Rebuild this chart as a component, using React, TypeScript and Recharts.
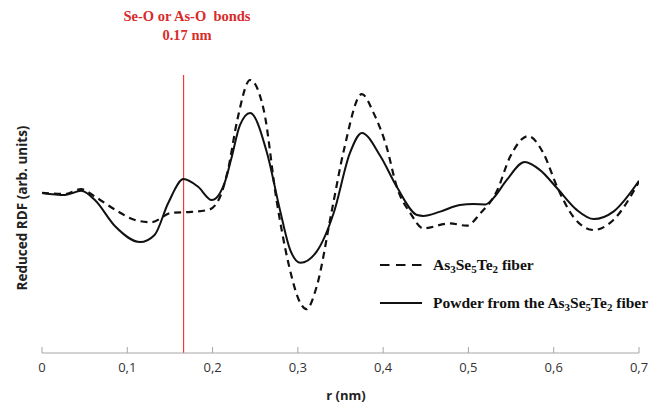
import React from "react";
import { LineChart, Line, XAxis, YAxis, ReferenceLine } from "recharts";

// r (nm) and reduced RDF (arb. units) for the fiber curve
const fiberR = [
  0, 0.027, 0.046, 0.062, 0.086, 0.109, 0.128, 0.152, 0.175, 0.195, 0.207,
  0.218, 0.229, 0.244, 0.26, 0.275, 0.289, 0.303, 0.31, 0.322, 0.34, 0.354,
  0.375, 0.389, 0.404, 0.416, 0.432, 0.447, 0.478, 0.498, 0.514, 0.533, 0.549,
  0.57, 0.588, 0.604, 0.623, 0.647, 0.67, 0.7,
];
const fiberRdf = [
  55.6, 55.2, 56.9, 54.3, 49.7, 46.2, 45.4, 48.7, 49.0, 49.7, 53.1, 63.5,
  80.9, 94.8, 84.4, 53.1, 31.1, 17.3, 15.2, 23.0, 49.7, 70.5, 89.9, 83.2,
  71.6, 57.7, 48.5, 43.3, 45.0, 44.2, 48.5, 56.0, 68.2, 75.3, 69.3, 57.7,
  47.3, 42.7, 46.2, 59.5,
];

// powder ground from the same fiber
const powderR = [
  0, 0.027, 0.046, 0.062, 0.086, 0.115, 0.132, 0.148, 0.166, 0.183, 0.199,
  0.214, 0.222, 0.232, 0.244, 0.264, 0.279, 0.291, 0.303, 0.322, 0.342, 0.361,
  0.375, 0.397, 0.416, 0.44, 0.447, 0.467, 0.49, 0.506, 0.52, 0.529, 0.545,
  0.566, 0.584, 0.604, 0.627, 0.647, 0.67, 0.7,
];
const powderRdf = [
  55.6, 54.9, 56.3, 53.1, 43.9, 38.5, 41.0, 52.1, 60.4, 57.7, 53.1, 59.0,
  67.5, 79.0, 83.3, 69.3, 49.7, 35.8, 31.3, 35.2, 48.6, 69.4, 76.4, 68.2,
  57.7, 47.9, 47.6, 49.1, 51.4, 51.7, 51.6, 53.7, 60.1, 66.3, 63.5, 57.2,
  49.7, 46.5, 49.1, 59.8,
];

const rTicks = [0, 0.1, 0.2, 0.3, 0.4, 0.5, 0.6, 0.7];
const bondR = 0.166;

const fiberData = fiberR.map((r, i) => ({ r, rdf: fiberRdf[i] }));
const powderData = powderR.map((r, i) => ({ r, rdf: powderRdf[i] }));

const sans = "'Open Sans', sans-serif";
const serif = "'Liberation Serif', 'Times New Roman', serif";
const axisGrey = "#a6a6a6";

const formatR = (v: number) => (v === 0 ? "0" : v.toFixed(1).replace(".", ","));

// tick marks point up into the plot, labels sit below the axis
function RTick(props: any) {
  const { x, y, payload } = props;
  return (
    <g>
      <line x1={x} x2={x} y1={y} y2={y - 6} stroke={axisGrey} strokeWidth={1} />
      <text
        x={x}
        y={y + 19}
        textAnchor="middle"
        fontFamily={sans}
        fontSize={13}
        fill="#333"
      >
        {formatR(payload.value)}
      </text>
    </g>
  );
}

function Compound() {
  const sub: React.CSSProperties = { fontSize: 11, verticalAlign: "-3px", lineHeight: 0 };
  return (
    <>
      As<span style={sub}>3</span>Se<span style={sub}>5</span>Te<span style={sub}>2</span>
    </>
  );
}

function RdfLegend() {
  const row: React.CSSProperties = {
    display: "flex",
    alignItems: "center",
    height: 38,
    fontFamily: serif,
    fontWeight: 700,
    fontSize: 15.5,
    color: "#111",
    whiteSpace: "nowrap",
  };
  return (
    <div style={{ position: "absolute", left: 378, top: 246 }}>
      <div style={row}>
        <svg width={55} height={10}>
          <line x1={2} x2={44} y1={5} y2={5} stroke="#111" strokeWidth={2} strokeDasharray="9.5 6.5" />
        </svg>
        <span>
          <Compound /> fiber
        </span>
      </div>
      <div style={row}>
        <svg width={55} height={10}>
          <line x1={2} x2={44} y1={5} y2={5} stroke="#111" strokeWidth={2} />
        </svg>
        <span>
          Powder from the <Compound /> fiber
        </span>
      </div>
    </div>
  );
}

export default function App() {
  return (
    <div style={{ position: "absolute", left: 0, top: 0, width: 670, height: 408, background: "#fff" }}>
      <LineChart
        width={670}
        height={408}
        margin={{ top: 65, right: 31, bottom: 25, left: 42 }}
      >
        <XAxis
          dataKey="r"
          type="number"
          domain={[0, 0.7]}
          ticks={rTicks}
          allowDataOverflow
          stroke={axisGrey}
          tickLine={false}
          tickSize={0}
          tickMargin={0}
          tick={<RTick />}
          label={{
            content: () => (
              <text
                x={346}
                y={400}
                textAnchor="middle"
                fontFamily={sans}
                fontWeight={700}
                fontSize={13}
                fill="#222"
              >
                r (nm)
              </text>
            ),
          }}
        />
        <YAxis
          type="number"
          domain={[0, 100]}
          width={0}
          tick={false}
          tickLine={false}
          stroke={axisGrey}
        />
        <ReferenceLine
          segment={[
            { x: bondR, y: 96.5 },
            { x: bondR, y: 0 },
          ]}
          stroke="#f23a3a"
          strokeWidth={1.2}
        />
        <Line
          data={fiberData}
          dataKey="rdf"
          type="monotone"
          stroke="#111"
          strokeWidth={2.2}
          strokeDasharray="7 5"
          dot={false}
          activeDot={false}
          isAnimationActive={false}
        />
        <Line
          data={powderData}
          dataKey="rdf"
          type="monotone"
          stroke="#111"
          strokeWidth={2}
          dot={false}
          activeDot={false}
          isAnimationActive={false}
        />
      </LineChart>

      <div
        style={{
          position: "absolute",
          left: 87,
          top: 7,
          width: 200,
          textAlign: "center",
          fontFamily: serif,
          fontWeight: 700,
          fontSize: 14.5,
          lineHeight: "19px",
          color: "#d92b2b",
          whiteSpace: "pre",
        }}
      >
        {"Se-O or As-O  bonds\n0.17 nm"}
      </div>

      <div
        style={{
          position: "absolute",
          left: 22,
          top: 208,
          transform: "translate(-50%, -50%) rotate(-90deg)",
          fontFamily: sans,
          fontWeight: 700,
          fontSize: 13.5,
          color: "#222",
          whiteSpace: "nowrap",
        }}
      >
        Reduced RDF (arb. units)
      </div>

      <RdfLegend />
    </div>
  );
}
